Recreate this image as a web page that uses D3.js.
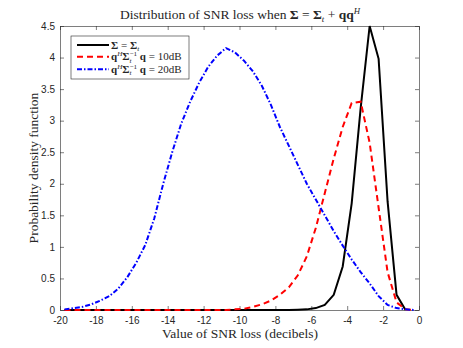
<!DOCTYPE html>
<html>
<head>
<meta charset="utf-8">
<script src="https://cdn.jsdelivr.net/npm/d3@7"></script>
<style>
  body { margin: 0; background: #fff; }
  svg { display: block; }
  .tick text { font-family: "Liberation Sans", Arial, sans-serif; font-size: 10px; fill: #262626; }
  .lbl { font-family: "Liberation Serif", "DejaVu Serif", serif; fill: #262626; }
</style>
</head>
<body>
<div id="chart"></div>
<script>
// bin centres (dB), 0.5 dB bins
const binCentres = d3.range(40).map(i => -19.75 + i * 0.5);

// null = no point drawn
const pdfSigmaT = [
  0, 0, 0, 0, 0, 0, 0, 0, 0, 0,
  0, 0, 0, 0, 0, 0, 0, 0, 0, 0,
  0, 0, 0, 0, 0, 0, 0.005, 0.01, 0.03, 0.08,
  0.24, 0.69, 1.69, 3.2, 4.5, 3.98, 1.72, 0.24, 0, null
];

const pdf10dB = [
  0, 0, 0, 0, 0, 0, 0, 0, 0, 0,
  0, 0, 0, 0, 0, 0, 0, 0, 0, 0.01,
  0.02, 0.05, 0.09, 0.15, 0.24, 0.36, 0.55, 0.85, 1.3, 1.85,
  2.4, 2.9, 3.28, 3.3, 2.65, 1.62, 0.6, 0.12, 0.01, 0
];

const pdf20dB = [
  0.01, 0.03, 0.05, 0.09, 0.15, 0.22, 0.34, 0.52, 0.75, 1.03,
  1.45, 2.0, 2.5, 2.95, 3.3, 3.6, 3.85, 4.03, 4.15, 4.08,
  3.95, 3.78, 3.55, 3.25, 2.9, 2.6, 2.3, 2.0, 1.75, 1.5,
  1.25, 1.02, 0.8, 0.6, 0.42, 0.22, 0.08, 0.03, 0.01, 0
];

const xTicks = d3.range(-20, 0.1, 2);
const yTicks = d3.range(0, 4.51, 0.5);

const width = 463, height = 348;
const margin = { top: 26, right: 44, bottom: 38, left: 60 };

const svg = d3.select('#chart').append('svg')
  .attr('width', width).attr('height', height);

const x = d3.scaleLinear().domain([-20, 0]).range([margin.left, width - margin.right]);
const y = d3.scaleLinear().domain([0, 4.5]).range([height - margin.bottom, margin.top]);

const axisCol = '#262626';
const tl = 4;

function styleAxis(g) {
  g.select('.domain').attr('stroke', axisCol).attr('stroke-width', 0.6);
  g.selectAll('.tick line').attr('stroke', axisCol).attr('stroke-width', 0.6);
}

const fmt = d => String(Math.round(d * 10) / 10);

svg.append('g')
  .attr('transform', `translate(0,${y(0)})`)
  .call(d3.axisBottom(x).tickValues(xTicks).tickSizeInner(-tl).tickSizeOuter(0).tickPadding(7).tickFormat(fmt))
  .call(styleAxis);
svg.append('g')
  .attr('transform', `translate(0,${y(4.5)})`)
  .call(d3.axisTop(x).tickValues(xTicks).tickSizeInner(-tl).tickSizeOuter(0).tickFormat(''))
  .call(styleAxis);
svg.append('g')
  .attr('transform', `translate(${x(-20)},0)`)
  .call(d3.axisLeft(y).tickValues(yTicks).tickSizeInner(-tl).tickSizeOuter(0).tickPadding(5).tickFormat(fmt))
  .call(styleAxis);
svg.append('g')
  .attr('transform', `translate(${x(0)},0)`)
  .call(d3.axisRight(y).tickValues(yTicks).tickSizeInner(-tl).tickSizeOuter(0).tickFormat(''))
  .call(styleAxis);

const series = [
  { vals: pdfSigmaT, color: '#000', dash: null },
  { vals: pdf10dB, color: '#ff0000', dash: '6,4' },
  { vals: pdf20dB, color: '#0000ff', dash: '5,2,1.5,2' }
];

const line = d3.line()
  .defined(d => d !== null)
  .x((d, i) => x(binCentres[i]))
  .y(d => y(d));

const plot = svg.append('g');
series.forEach(s => {
  plot.append('path')
    .datum(s.vals)
    .attr('d', line)
    .attr('fill', 'none')
    .attr('stroke', s.color)
    .attr('stroke-width', 2)
    .attr('stroke-dasharray', s.dash);
});

// math-ish text: parts with bold / italic / sup / sub; "stack" puts a sup above the previous sub
function mathText(g, xPos, yPos, parts, size) {
  const t = g.append('text').attr('class', 'lbl').attr('x', xPos).attr('y', yPos)
    .style('font-size', size + 'px');
  let shift = 0;
  let prev = null;
  parts.forEach(p => {
    const ts = t.append('tspan').text(p.t);
    const target = p.sup ? -size * 0.35 : p.sub ? size * 0.22 : 0;
    ts.attr('dy', target - shift);
    shift = target;
    if (p.b) ts.style('font-weight', 'bold');
    if (p.i) ts.style('font-style', 'italic');
    if (p.sup || p.sub) ts.style('font-size', (size * 0.65) + 'px');
    if (p.stack && prev) ts.attr('dx', -prev.node().getComputedTextLength());
    prev = ts;
  });
  return t;
}

// legend
const lg = svg.append('g').attr('transform', 'translate(71,36)');
lg.append('rect').attr('width', 118).attr('height', 43)
  .attr('fill', '#fff').attr('stroke', '#262626').attr('stroke-width', 0.6);

const rows = [9, 20.7, 33.3];
series.forEach((s, i) => {
  lg.append('line').attr('x1', 6).attr('x2', 38).attr('y1', rows[i]).attr('y2', rows[i])
    .attr('stroke', s.color).attr('stroke-width', 2).attr('stroke-dasharray', s.dash);
});

const legendLabels = [
  [{ t: 'Σ', b: 1 }, { t: ' = ' }, { t: 'Σ', b: 1 }, { t: 't', sub: 1, i: 1 }],
  [{ t: 'q', b: 1 }, { t: 'H', sup: 1, i: 1 }, { t: 'Σ', b: 1 }, { t: 't', sub: 1, i: 1 },
   { t: '−1', sup: 1, stack: 1 }, { t: ' q', b: 1 }, { t: ' = 10dB' }],
  [{ t: 'q', b: 1 }, { t: 'H', sup: 1, i: 1 }, { t: 'Σ', b: 1 }, { t: 't', sub: 1, i: 1 },
   { t: '−1', sup: 1, stack: 1 }, { t: ' q', b: 1 }, { t: ' = 20dB' }]
];
legendLabels.forEach((parts, i) => mathText(lg, 40, rows[i] + 3.5, parts, 11));

// title
const title = mathText(svg, 0, 19, [
  { t: 'Distribution of SNR loss when ' }, { t: 'Σ', b: 1 }, { t: ' = ' }, { t: 'Σ', b: 1 },
  { t: 't', sub: 1, i: 1 }, { t: ' + ' }, { t: 'qq', b: 1 }, { t: 'H', sup: 1, i: 1 }
], 13.5);
title.attr('x', 240).attr('text-anchor', 'middle');

svg.append('text').attr('class', 'lbl')
  .attr('x', 240).attr('y', 338).attr('text-anchor', 'middle')
  .style('font-size', '13.5px')
  .text('Value of SNR loss (decibels)');

svg.append('text').attr('class', 'lbl')
  .attr('transform', `translate(38,${(y(0) + y(4.5)) / 2}) rotate(-90)`)
  .attr('text-anchor', 'middle')
  .style('font-size', '13.5px')
  .text('Probability density function');
</script>
</body>
</html>
